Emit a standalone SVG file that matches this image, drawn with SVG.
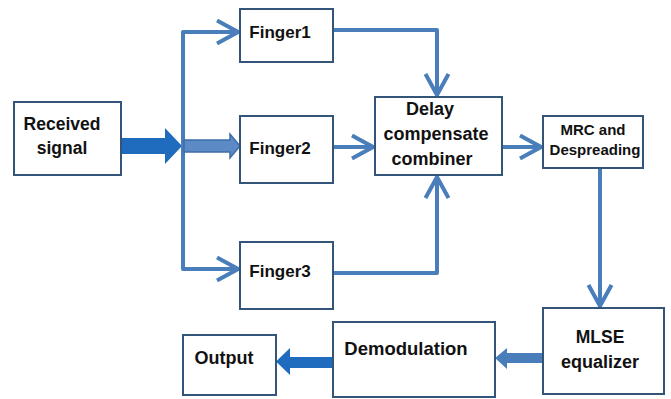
<svg xmlns="http://www.w3.org/2000/svg" width="671" height="399" viewBox="0 0 671 399">
<style>
.box{fill:#fff;stroke:#34557a;stroke-width:2}
.t{font-family:"Liberation Sans",Arial,sans-serif;font-weight:bold;fill:#111;text-anchor:middle}
.ln{fill:none;stroke:#4a7ebb;stroke-width:4;stroke-linejoin:round}
.blk{fill:#1f6cbf}
.mid{fill:#4a7ebb}
</style>
<defs>
<marker id="chev" viewBox="0 0 26 26" refX="23" refY="13" markerWidth="26" markerHeight="26" markerUnits="userSpaceOnUse" orient="auto">
<path d="M2,1.5 L23,13 L2,24.5" fill="none" stroke="#4a7ebb" stroke-width="4" stroke-linejoin="miter"/>
</marker>
</defs>
<g id="connectors">
<polygon class="blk" points="121,138 165,138 165,128 182,146 165,164 165,154 121,154"/>
<path class="ln" d="M183,146 L183,32 L238,32" marker-end="url(#chev)"/>
<path class="ln" d="M183,146 L183,269 L238,269" marker-end="url(#chev)"/>
<polygon points="184,140 230,140 230,134 240,146 230,158 230,152 184,152" fill="#5b8ac4" stroke="#3d6ea8" stroke-width="1.5"/>
<path class="ln" d="M333,30 L437,30 L437,95" marker-end="url(#chev)"/>
<path class="ln" d="M333,147 L373,147" marker-end="url(#chev)"/>
<path class="ln" d="M333,273 L437,273 L437,177" marker-end="url(#chev)"/>
<path class="ln" d="M502,147 L541,147" marker-end="url(#chev)"/>
<path class="ln" d="M600,168 L600,306" marker-end="url(#chev)"/>
<polygon class="mid" points="543,353 507,353 507,348 495,358 507,369 507,363 543,363"/>
<polygon class="blk" points="333,357 290,357 290,348 276,361.5 290,375 290,368 333,368"/>
</g>
<g id="received"><rect class="box" x="14" y="102" width="107" height="73"/><text class="t" x="62" y="130" font-size="17.5">Received</text><text class="t" x="62" y="154" font-size="17.5">signal</text></g>
<g id="finger1"><rect class="box" x="240" y="9" width="93" height="53"/><text class="t" x="280" y="38" font-size="17">Finger1</text></g>
<g id="finger2"><rect class="box" x="240" y="116" width="93" height="67"/><text class="t" x="280" y="154" font-size="17">Finger2</text></g>
<g id="finger3"><rect class="box" x="240" y="242" width="93" height="67"/><text class="t" x="280" y="277" font-size="17">Finger3</text></g>
<g id="combiner"><rect class="box" x="375" y="97" width="127" height="78"/><text class="t" x="430" y="115" font-size="18">Delay</text><text class="t" x="436" y="140" font-size="18">compensate</text><text class="t" x="432" y="165" font-size="18">combiner</text></g>
<g id="mrc"><rect class="box" x="543" y="116" width="100" height="52"/><text class="t" x="593" y="135" font-size="15">MRC and</text><text class="t" x="595" y="155" font-size="15">Despreading</text></g>
<g id="mlse"><rect class="box" x="543" y="308" width="121" height="86"/><text class="t" x="600" y="343" font-size="17.5">MLSE</text><text class="t" x="600" y="368" font-size="18">equalizer</text></g>
<g id="demod"><rect class="box" x="333" y="322" width="162" height="75"/><text class="t" x="406" y="355" font-size="18.5">Demodulation</text></g>
<g id="output"><rect class="box" x="183" y="335" width="93" height="60"/><text class="t" x="224" y="364" font-size="18">Output</text></g>
</svg>
